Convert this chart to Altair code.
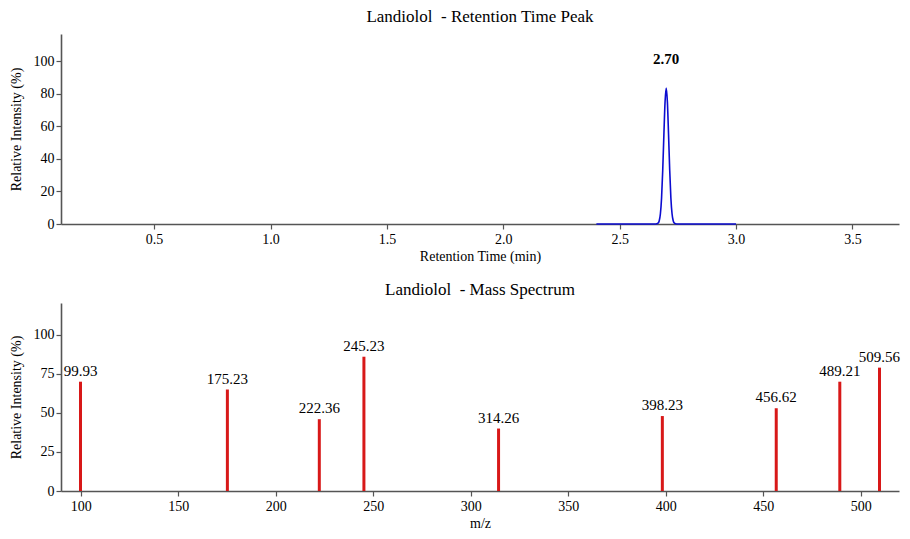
import altair as alt
import pandas as pd

# ---- Retention time chromatogram ----
rt_times = [2.40, 2.655, 2.665, 2.67, 2.675, 2.68, 2.685, 2.69, 2.695, 2.70,
            2.705, 2.71, 2.715, 2.72, 2.725, 2.73, 2.735, 2.745, 3.00]
rt_intensity = [0, 0, 0.6, 2, 6.3, 16, 33, 55, 75, 83.5,
                75, 55, 33, 16, 6.3, 2, 0.6, 0, 0]
peak_rt = [2.70]
peak_height = [83.5]
peak_label = ["2.70"]

# ---- Mass spectrum ----
mz_values = [99.93, 175.23, 222.36, 245.23, 314.26, 398.23, 456.62, 489.21, 509.56]
mz_intensity = [70, 65, 46, 86, 40, 48, 53, 70, 79]
mz_labels = ["99.93", "175.23", "222.36", "245.23", "314.26", "398.23", "456.62", "489.21", "509.56"]

FONT = "Liberation Serif"
AX = "#555555"

rt_df = pd.DataFrame({"t": rt_times, "i": rt_intensity})
pk_df = pd.DataFrame({"t": peak_rt, "i": peak_height, "lab": peak_label})
ms_df = pd.DataFrame({"mz": mz_values, "i": mz_intensity, "lab": mz_labels})

def xaxis(title, values, fmt):
    return alt.Axis(title=title, values=values, format=fmt, grid=False,
                    domainColor=AX, domainWidth=1.6, tickColor=AX, tickWidth=1.2,
                    tickSize=5, labelFont=FONT, labelFontSize=14, labelColor="black",
                    titleFont=FONT, titleFontSize=14, titleFontWeight="normal",
                    titleColor="black", labelPadding=3, titlePadding=3,
                    labelOverlap=False)

def yaxis(values):
    return alt.Axis(title="Relative Intensity (%)", values=values, grid=False,
                    domainColor=AX, domainWidth=1.6, tickColor=AX, tickWidth=1.2,
                    tickSize=5, labelFont=FONT, labelFontSize=14, labelColor="black",
                    titleFont=FONT, titleFontSize=14, titleFontWeight="normal",
                    titleColor="black", labelPadding=2, titlePadding=10,
                    labelOverlap=False)

W = 838

top_xs = alt.Scale(domain=[0.1, 3.7], nice=False, zero=False)
top_ys = alt.Scale(domain=[0, 116.7], nice=False)
top_xa = xaxis("Retention Time (min)", [0.5, 1.0, 1.5, 2.0, 2.5, 3.0, 3.5], ".1f")
top_ya = yaxis([0, 20, 40, 60, 80, 100])

line = alt.Chart(rt_df).mark_line(color="#0c0cd0", strokeWidth=1.6,
                                  interpolate="monotone").encode(
    x=alt.X("t:Q", scale=top_xs, axis=top_xa),
    y=alt.Y("i:Q", scale=top_ys, axis=top_ya))
peak_txt = alt.Chart(pk_df).mark_text(font=FONT, fontSize=15, fontWeight="bold",
                                      baseline="middle", dy=-29, color="black").encode(
    x=alt.X("t:Q", scale=top_xs, axis=top_xa),
    y=alt.Y("i:Q", scale=top_ys, axis=top_ya),
    text="lab:N")

top = alt.layer(line, peak_txt).properties(
    width=W, height=190,
    title=alt.TitleParams("Landiolol \u00a0- Retention Time Peak", font=FONT, fontSize=17,
                          fontWeight="normal", color="black", offset=8))

bot_xs = alt.Scale(domain=[89.93, 519.56], nice=False, zero=False)
bot_ys = alt.Scale(domain=[0, 120.4], nice=False)
bot_xa = xaxis("m/z", [100, 150, 200, 250, 300, 350, 400, 450, 500], "d")
bot_ya = yaxis([0, 25, 50, 75, 100])

bars = alt.Chart(ms_df).mark_rule(color="#d81818", strokeWidth=3).encode(
    x=alt.X("mz:Q", scale=bot_xs, axis=bot_xa),
    y=alt.Y("i:Q", scale=bot_ys, axis=bot_ya),
    y2=alt.datum(0))
labs = alt.Chart(ms_df).mark_text(font=FONT, fontSize=15, baseline="bottom", dy=-3,
                                  color="black").encode(
    x=alt.X("mz:Q", scale=bot_xs, axis=bot_xa),
    y=alt.Y("i:Q", scale=bot_ys, axis=bot_ya),
    text="lab:N")

bottom = alt.layer(bars, labs).properties(
    width=W, height=188,
    title=alt.TitleParams("Landiolol \u00a0- Mass Spectrum", font=FONT, fontSize=17,
                          fontWeight="normal", color="black", offset=4))

chart = alt.vconcat(top, bottom, spacing=18).properties(
    padding={"left": 1, "top": 0, "right": 0, "bottom": 0}
).configure(background="white", view=alt.ViewConfig(strokeWidth=0, stroke="transparent"))

chart.save("out.html", embed_options={"renderer": "svg", "actions": False})
